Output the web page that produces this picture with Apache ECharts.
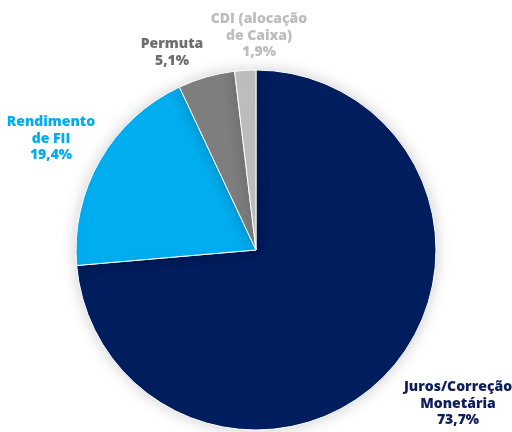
<!DOCTYPE html>
<html><head><meta charset="utf-8">
<script src="https://cdn.jsdelivr.net/npm/echarts@6/dist/echarts.min.js"></script>
<style>html,body{margin:0;padding:0;background:#fff}#c{width:512px;height:432px}</style>
</head><body><div id="c"></div>
<script>
var names = ['Juros/Correção\nMonetária', 'Rendimento\nde FII', 'Permuta', 'CDI (alocação\nde Caixa)'];
var values = [73.7, 19.4, 5.1, 1.9];
var colors = ['#001E5E', '#00AEEF', '#7F7F7F', '#BFBFBF'];
var labelColors = ['#0D1E5A', '#00AEEF', '#6E6E6E', '#BDBDBD'];
var labelPos = [[458, 379], [51, 114], [172, 36], [259, 11]];

var chart = echarts.init(document.getElementById('c'));
var graphics = names.map(function (n, i) {
  return {
    type: 'text', x: labelPos[i][0], y: labelPos[i][1],
    style: {
      text: n + '\n' + values[i].toFixed(1).replace('.', ',') + '%',
      fill: labelColors[i], font: '800 14px "Open Sans", sans-serif',
      align: 'center', verticalAlign: 'top', lineHeight: 16.5
    }
  };
});
chart.setOption({
  animation: false,
  series: [{
    type: 'pie', center: [256, 250], radius: [0, 180], startAngle: 90, clockwise: true,
    label: { show: false }, labelLine: { show: false },
    itemStyle: { borderColor: '#fff', borderWidth: 1, shadowBlur: 16, shadowColor: 'rgba(0,0,0,0.2)' },
    data: values.map(function (v, i) { return { value: v, name: names[i], itemStyle: { color: colors[i] } }; })
  }],
  graphic: graphics
});
</script></body></html>
